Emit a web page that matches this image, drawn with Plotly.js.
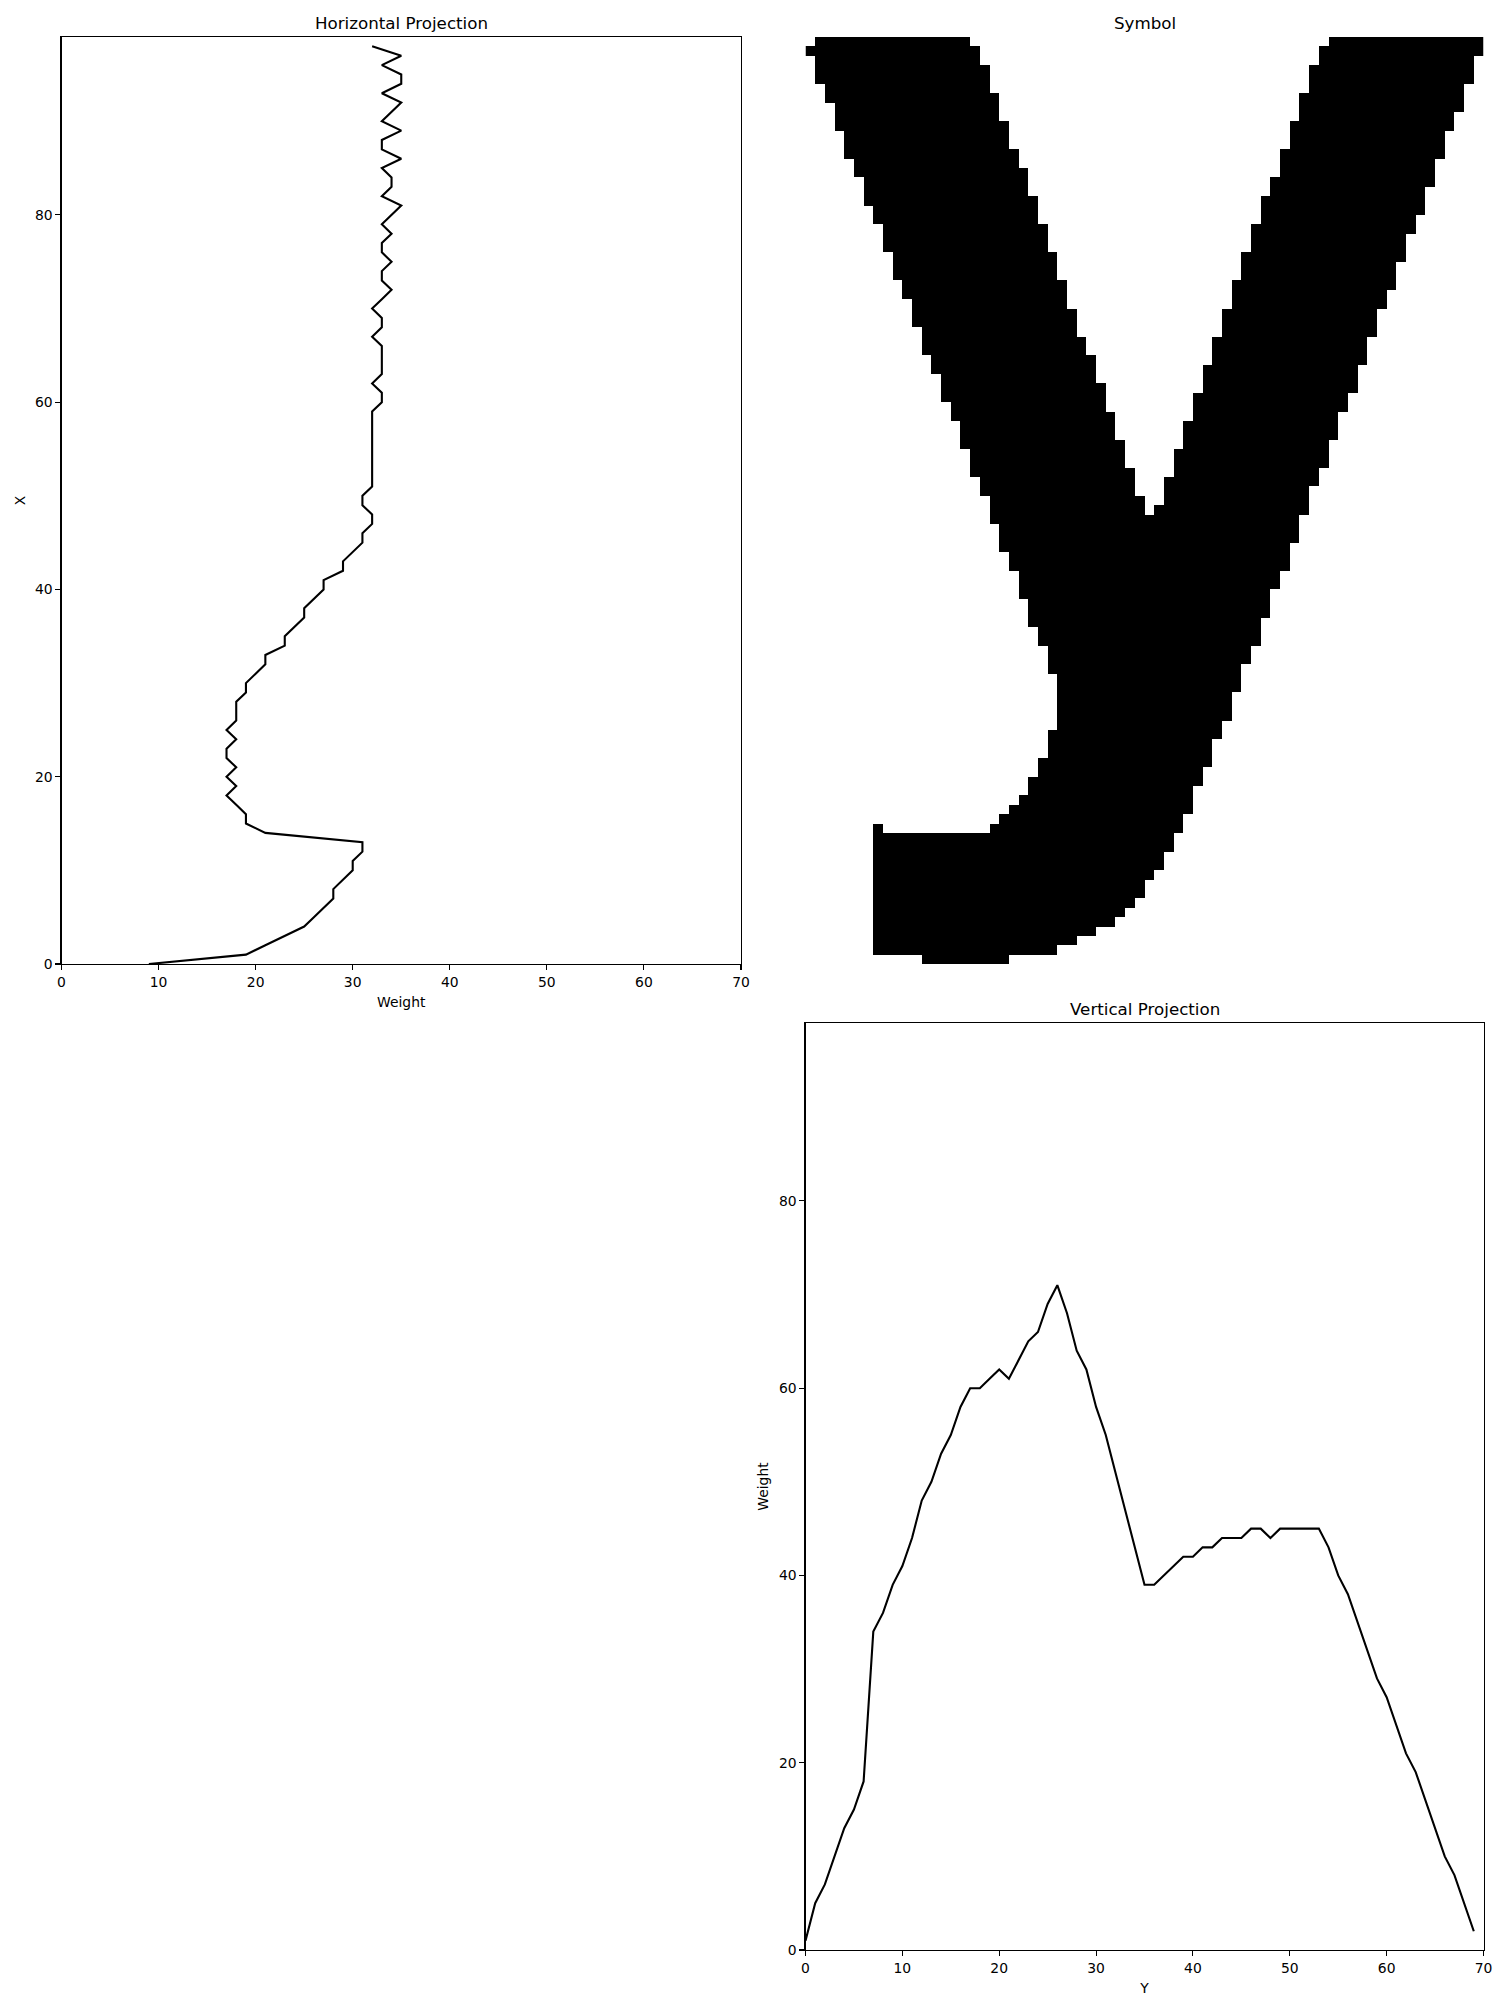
<!DOCTYPE html>
<html>
<head>
<meta charset="utf-8">
<script src="https://cdn.plot.ly/plotly-3.0.1.min.js"></script>
<style>body{margin:0;background:#fff}</style>
</head>
<body>
<div id="chart" style="width:1500px;height:2000px"></div>
<script>
// row sums of the glyph, X = 0 (bottom row) up to 98 (top row)
const horizontalWeights = [
    9, 19, 21, 23, 25, 26, 27, 28, 28, 29,
    30, 30, 31, 31, 21, 19, 19, 18, 17, 18,
    17, 18, 17, 17, 18, 17, 18, 18, 18, 19,
    19, 20, 21, 21, 23, 23, 24, 25, 25, 26,
    27, 27, 29, 29, 30, 31, 31, 32, 32, 31,
    31, 32, 32, 32, 32, 32, 32, 32, 32, 32,
    33, 33, 32, 33, 33, 33, 33, 32, 33, 33,
    32, 33, 34, 33, 33, 34, 33, 33, 34, 33,
    34, 35, 33, 34, 34, 33, 35, 33, 33, 35,
    33, 34, 35, 33, 35, 35, 33, 35, 32
];

// column sums of the glyph, Y = 0 .. 69
const verticalWeights = [
    1, 5, 7, 10, 13, 15, 18, 34, 36, 39,
    41, 44, 48, 50, 53, 55, 58, 60, 60, 61,
    62, 61, 63, 65, 66, 69, 71, 68, 64, 62,
    58, 55, 51, 47, 43, 39, 39, 40, 41, 42,
    42, 43, 43, 44, 44, 44, 45, 45, 44, 45,
    45, 45, 45, 45, 43, 40, 38, 35, 32, 29,
    27, 24, 21, 19, 16, 13, 10, 8, 5, 2
];

// black pixel runs of the symbol, top row first: start, end, start, end...
const symbolRuns = [
    [1, 16, 54, 69], [0, 17, 53, 69], [1, 17, 53, 68], [1, 18, 52, 68], [1, 18, 52, 68],
    [2, 18, 52, 67], [2, 19, 51, 67], [3, 19, 51, 67], [3, 19, 51, 66], [3, 20, 50, 66],
    [4, 20, 50, 65], [4, 20, 50, 65], [4, 21, 49, 65], [5, 21, 49, 64], [5, 22, 49, 64],
    [6, 22, 48, 64], [6, 22, 48, 63], [6, 23, 47, 63], [7, 23, 47, 63], [7, 23, 47, 62],
    [8, 24, 46, 62], [8, 24, 46, 61], [8, 24, 46, 61], [9, 25, 45, 61], [9, 25, 45, 60],
    [9, 25, 45, 60], [10, 26, 44, 60], [10, 26, 44, 59], [11, 26, 44, 59], [11, 27, 43, 58],
    [11, 27, 43, 58], [12, 27, 43, 58], [12, 28, 42, 57], [12, 28, 42, 57], [13, 29, 42, 57],
    [13, 29, 41, 56], [14, 29, 41, 56], [14, 30, 41, 56], [14, 30, 40, 55], [15, 30, 40, 55],
    [15, 31, 40, 54], [16, 31, 39, 54], [16, 31, 39, 54], [16, 32, 39, 53], [17, 32, 38, 53],
    [17, 32, 38, 53], [17, 33, 38, 52], [18, 33, 37, 52], [18, 33, 37, 51], [19, 34, 37, 51],
    [19, 34, 36, 51], [19, 50], [20, 50], [20, 50], [20, 49],
    [21, 49], [21, 49], [22, 48], [22, 48], [22, 47],
    [23, 47], [23, 47], [23, 46], [24, 46], [24, 46],
    [25, 45], [25, 45], [25, 44], [26, 44], [26, 44],
    [26, 43], [26, 43], [26, 43], [26, 42], [25, 42],
    [25, 41], [25, 41], [24, 41], [24, 40], [23, 40],
    [23, 39], [22, 39], [21, 39], [20, 38], [7, 7, 19, 38],
    [7, 37], [7, 37], [7, 36], [7, 36], [7, 35],
    [7, 34], [7, 34], [7, 33], [7, 32], [7, 31],
    [7, 29], [7, 27], [7, 25], [12, 20]
];
const symbolWidth = 70;

function runs_to_matrix(runs, width) {
    let z = [];
    for (let r = 0; r < runs.length; r++) {
        let row = new Array(width).fill(0);
        let row_runs = runs[r];
        for (let k = 0; k < row_runs.length; k += 2) {
            for (let c = row_runs[k]; c <= row_runs[k + 1]; c++) {
                row[c] = 1;
            }
        }
        z.push(row);
    }
    return z;
}

let font_family = 'DejaVu Sans, sans-serif';

function axis_style(extra) {
    return {
        showline: true,
        linecolor: 'black',
        linewidth: 1.1,
        mirror: true,
        ticks: 'outside',
        ticklen: 5,
        tickwidth: 1.1,
        tickcolor: 'black',
        showgrid: false,
        zeroline: false,
        tickfont: {family: font_family, size: 13.9, color: 'black'},
        ...extra
    };
}

function axis_title(text, standoff) {
    return {text: text, standoff: standoff, font: {family: font_family, size: 13.9, color: 'black'}};
}

let h_positions = horizontalWeights.map((_, i) => i);
let v_positions = verticalWeights.map((_, i) => i);

let data = [
    {
        x: horizontalWeights,
        y: h_positions,
        type: 'scatter',
        mode: 'lines',
        line: {color: 'black', width: 2.1},
        xaxis: 'x',
        yaxis: 'y',
        hoverinfo: 'skip'
    },
    {
        z: runs_to_matrix(symbolRuns, symbolWidth),
        type: 'heatmap',
        colorscale: [[0, '#ffffff'], [1, '#000000']],
        zmin: 0,
        zmax: 1,
        showscale: false,
        xaxis: 'x2',
        yaxis: 'y2',
        hoverinfo: 'skip'
    },
    {
        x: v_positions,
        y: verticalWeights,
        type: 'scatter',
        mode: 'lines',
        line: {color: 'black', width: 2.1},
        xaxis: 'x3',
        yaxis: 'y3',
        hoverinfo: 'skip'
    }
];

let top_row = [0.518, 0.9815];
let bottom_row = [0.025, 0.4885];
let left_col = [0.041, 0.494];
let right_col = [0.537, 0.989];

function subplot_title(text, x_domain, y_top) {
    return {
        text: text,
        xref: 'paper', yref: 'paper',
        x: (x_domain[0] + x_domain[1]) / 2,
        y: y_top,
        xanchor: 'center', yanchor: 'bottom',
        yshift: 2,
        showarrow: false,
        font: {family: font_family, size: 16.7, color: 'black'}
    };
}

let layout = {
    width: 1500,
    height: 2000,
    margin: {l: 0, r: 0, t: 0, b: 0},
    paper_bgcolor: 'white',
    plot_bgcolor: 'white',
    showlegend: false,
    font: {family: font_family, color: 'black'},
    xaxis: axis_style({domain: left_col, anchor: 'y', range: [0, 70], dtick: 10, title: axis_title('Weight', 8)}),
    yaxis: axis_style({domain: top_row, anchor: 'x', range: [0, 99], dtick: 20, title: axis_title('X', 6)}),
    xaxis2: {domain: right_col, anchor: 'y2', range: [-0.5, 69.5], visible: false},
    yaxis2: {domain: top_row, anchor: 'x2', range: [98.5, -0.5], visible: false},
    xaxis3: axis_style({domain: right_col, anchor: 'y3', range: [0, 70], dtick: 10, title: axis_title('Y', 8.5)}),
    yaxis3: axis_style({domain: bottom_row, anchor: 'x3', range: [0, 99], dtick: 20, title: axis_title('Weight', 6.5)}),
    annotations: [
        subplot_title('Horizontal Projection', left_col, top_row[1]),
        subplot_title('Symbol', right_col, top_row[1]),
        subplot_title('Vertical Projection', right_col, bottom_row[1])
    ]
};

Plotly.newPlot('chart', data, layout, {staticPlot: true});
</script>
</body>
</html>
